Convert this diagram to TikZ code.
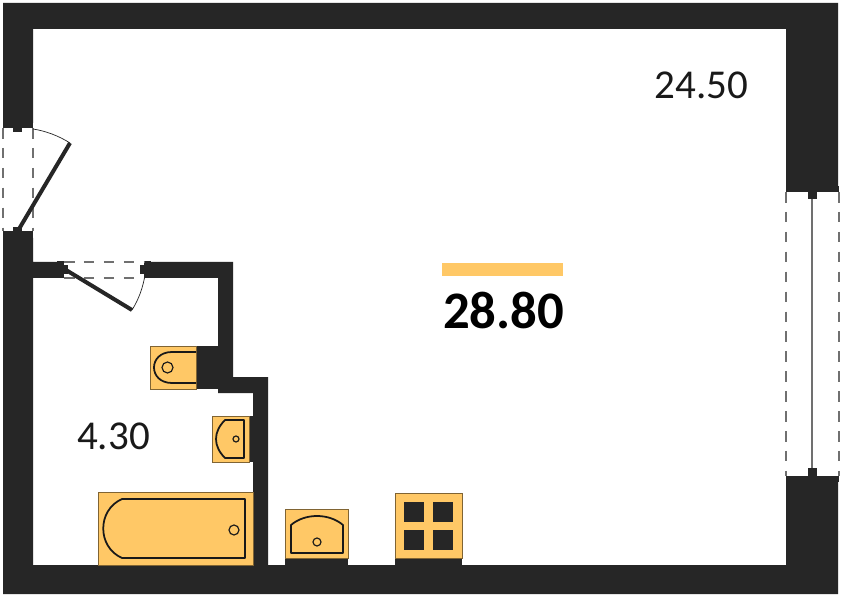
\documentclass[tikz,border=0pt]{standalone}
\usepackage{fontspec}
\setmainfont{Carlito}
\definecolor{wallgray}{HTML}{262626}
\definecolor{fitorange}{HTML}{FFC866}
\definecolor{dashgray}{HTML}{707070}
\tikzset{
  wall/.style={fill=wallgray, draw=none},
  fitting/.style={fill=fitorange, draw=black!50!fitorange, line width=0.6pt},
  outline/.style={draw=black!90, line width=1.5pt, line join=round},
  opening/.style={draw=dashgray, line width=1pt, dash pattern=on 9pt off 8pt},
  leaf/.style={draw=wallgray, line width=3.4pt},
  swing/.style={draw=wallgray, line width=0.6pt},
  area/.style={font=\fontsize{35}{35}\selectfont, text=black!90, inner sep=0pt}
}
\begin{document}
\begin{tikzpicture}[x=0.03cm, y=-0.03cm]
    \useasboundingbox (0, 0) rectangle (842, 600);
    \fill[white] (0, 0) rectangle (842, 600);
    \fill[wall] (3, 123) -- (3, 3) -- (838, 3) -- (838, 187) -- (786, 187) -- (786, 29)
      -- (33, 29) -- (33, 123) -- cycle;
    \fill[wall] (3, 238) -- (33, 238) -- (33, 262) -- (57, 262) -- (57, 278) -- (33, 278)
      -- (33, 565) -- (253, 565) -- (253, 393) -- (218, 393) -- (218, 278) -- (151, 278)
      -- (151, 262) -- (233, 262) -- (233, 377) -- (268, 377) -- (268, 565) -- (786, 565)
      -- (786, 482) -- (838, 482) -- (838, 594) -- (3, 594) -- cycle;
    % entrance door
    \fill[wall] (3, 121) rectangle (33, 128);
    \fill[wall] (13, 128) rectangle (22, 132);
    \fill[wall] (3, 231) rectangle (33, 238);
    \fill[wall] (13, 227) rectangle (22, 231);
    \draw[opening] (3, 128) -- (3, 231);
    \draw[opening] (33, 128) -- (33, 231);
    \draw[leaf] (19, 229) -- (70, 143);
    \draw[swing] (33, 129) .. controls (46, 131) and (59, 136) .. (70, 143);
    % bathroom door
    \fill[wall] (57, 261) rectangle (64, 278);
    \fill[wall] (64, 265) rectangle (68, 274);
    \fill[wall] (144, 261) rectangle (151, 278);
    \fill[wall] (140, 265) rectangle (144, 274);
    \draw[opening] (64, 262) -- (144, 262);
    \draw[opening] (64, 278) -- (144, 278);
    \draw[leaf] (66, 270) -- (132, 310);
    \draw[swing] (132, 310) .. controls (139, 299) and (143, 287) .. (145, 275);
    % window
    \fill[wall] (786, 186) rectangle (839, 192);
    \fill[wall] (808, 192) rectangle (817, 199);
    \fill[wall] (786, 476) rectangle (839, 482);
    \fill[wall] (808, 468) rectangle (817, 476);
    \draw[opening] (786, 192) -- (786, 476);
    \draw[opening] (839, 192) -- (839, 476);
    \draw[dashgray, line width=1pt] (812, 199) -- (812, 468);
    % toilet
    \fill[wall] (196, 346) rectangle (218, 389);
    \draw[fitting] (150, 346) rectangle (196, 389);
    \draw[outline] (196, 352) -- (172, 352) .. controls (148, 352) and (148, 383) .. (172, 383) -- (196, 383);
    \draw[outline, line width=1pt] (167.5, 367.5) circle (5.5);
    % wash basin
    \fill[wall] (249, 416) rectangle (253, 462);
    \draw[fitting] (212, 416) rectangle (249, 462);
    \draw[outline] (244, 420) -- (225, 420) .. controls (213, 432) and (213, 446) .. (225, 458) -- (244, 458) -- cycle;
    \draw[outline, line width=1pt] (236, 439) circle (3);
    % bath
    \draw[fitting] (98, 492) rectangle (253, 565);
    \draw[outline] (245, 499) -- (122, 499) .. controls (97, 510) and (97, 547) .. (122, 558) -- (245, 558) -- cycle;
    \draw[outline, line width=1pt] (234, 530) circle (5);
    % kitchen sink
    \fill[wall] (285, 558) rectangle (348, 565);
    \draw[fitting] (285, 509) rectangle (348, 558);
    \draw[outline] (291, 553) -- (291, 525) .. controls (305, 513) and (329, 513) .. (343, 525) -- (343, 553) -- cycle;
    \draw[outline, line width=1pt] (317, 542) circle (4);
    % hob
    \fill[wall] (395, 558) rectangle (462, 565);
    \draw[fitting] (395, 493) rectangle (462, 558);
    \foreach \xpos in {404, 433} {
      \foreach \ypos in {502, 530} {
        \fill[wall] (\xpos, \ypos) rectangle ++(20, 20);
      }
    }
    % areas
    \fill[fitorange] (442, 263) rectangle (563, 276);
    \node[area] (living) at (701.5, 85) {24.50};
    \node[area] (bath) at (113.5, 436) {4.30};
    \node[area, font=\fontsize{45}{45}\selectfont\bfseries, text=black] (total) at (503.5, 310) {28.80};
  \end{tikzpicture}
\end{document}
